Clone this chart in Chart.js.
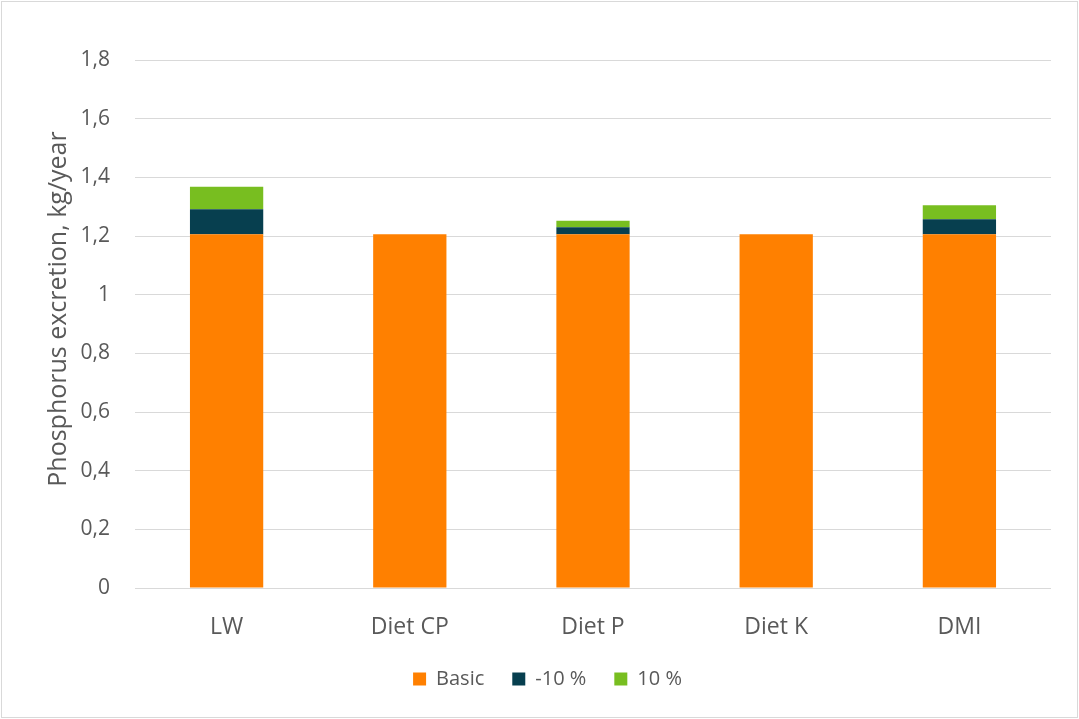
<!DOCTYPE html>
<html><head><meta charset="utf-8">
<script src="https://cdn.jsdelivr.net/npm/chart.js@4"></script>
<style>
html,body{margin:0;padding:0;background:#fff;}
#wrap{position:absolute;left:1px;top:1px;width:1075px;height:715px;border:1px solid #d9d9d9;}
canvas{display:block;}
</style></head>
<body><div id="wrap"><canvas id="c" width="1075" height="715"></canvas></div>
<script>
const categories = ["LW", "Diet CP", "Diet P", "Diet K", "DMI"];
const basic = [1.206, 1.206, 1.206, 1.206, 1.206];
const minus10 = [0.085, 0, 0.024, 0, 0.051];
const plus10 = [0.077, 0, 0.022, 0, 0.048];
const yTitle = "Phosphorus excretion, kg/year";
const FONT = "'Open Sans', 'Noto Sans', sans-serif";

new Chart(document.getElementById('c'), {
  type: 'bar',
  data: {
    labels: categories,
    datasets: [
      {label: 'Basic', data: basic, backgroundColor: '#FF8000'},
      {label: '-10 %', data: minus10, backgroundColor: '#073F4F'},
      {label: '10 %', data: plus10, backgroundColor: '#78BE20'}
    ]
  },
  options: {
    responsive: false,
    animation: false,
    layout: {padding: {top: 58, right: 26, left: 42, bottom: 18}},
    datasets: {bar: {categoryPercentage: 1, barPercentage: 0.4}},
    plugins: {
      legend: {
        position: 'bottom',
        labels: {boxWidth: 13, boxHeight: 13, padding: 28, color: '#595959', font: {family: FONT, size: 20}}
      },
      tooltip: {enabled: false}
    },
    scales: {
      x: {
        stacked: true,
        afterFit: s => { s.height = 53; },
        grid: {display: false},
        border: {display: false},
        ticks: {color: '#595959', font: {family: FONT, size: 23}, padding: 18}
      },
      y: {
        stacked: true,
        min: 0, max: 1.8,
        afterFit: s => {
          s.width = 91;
          s.drawTitle = function () {
            const ctx = this.ctx;
            ctx.save();
            ctx.translate(0, -15);
            Chart.Scale.prototype.drawTitle.call(this);
            ctx.restore();
          };
        },
        grid: {color: '#d9d9d9', lineWidth: 1, drawTicks: false},
        border: {display: false},
        ticks: {
          stepSize: 0.2, color: '#595959', font: {family: FONT, size: 21}, padding: 25,
          callback: v => { const r = Math.round(v * 10) / 10; return r.toString().replace('.', ','); }
        },
        title: {display: true, text: yTitle, color: '#595959', font: {family: FONT, size: 25}, padding: {top: 0, bottom: 0}}
      }
    }
  }
});
</script>
</body></html>
